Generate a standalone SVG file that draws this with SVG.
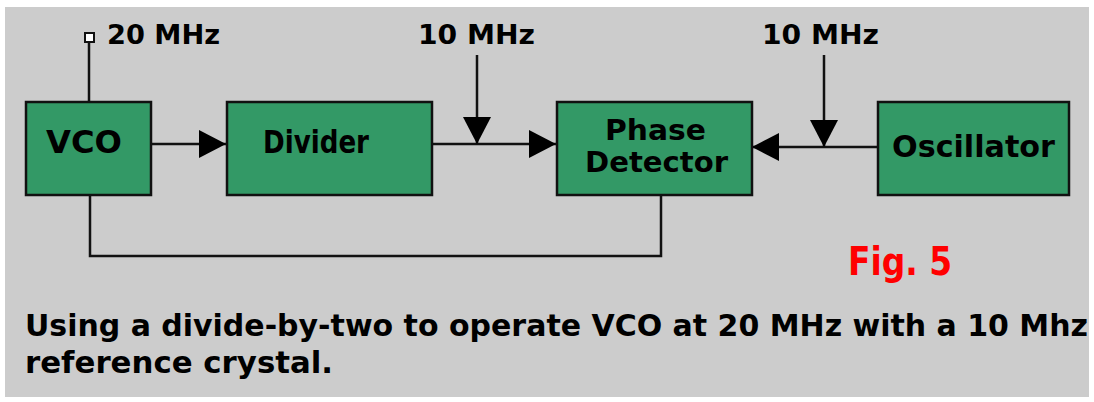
<svg xmlns="http://www.w3.org/2000/svg" width="1094" height="402" viewBox="0 0 1094 402">
<defs>
<style>
.box{fill:#339966;stroke:#111;stroke-width:2.5}
.lbl{font-family:"DejaVu Sans","Liberation Sans",sans-serif;font-weight:bold;fill:#000}
.cap{font-family:"DejaVu Sans Condensed","DejaVu Sans","Liberation Sans",sans-serif;font-weight:bold;fill:#000}
.wire{fill:none;stroke:#111;stroke-width:2.5}
</style>
<marker id="ah" markerUnits="userSpaceOnUse" markerWidth="28" markerHeight="30" refX="27" refY="14" orient="auto" viewBox="0 0 28 28">
<path d="M0,0 L27,14 L0,28 z" fill="#000"/>
</marker>
</defs>
<rect x="0" y="0" width="1094" height="402" fill="#ffffff"/>
<rect x="5" y="7" width="1084" height="390" fill="#cccccc"/>

<g id="connectors">
<line class="wire" x1="89" y1="42" x2="89" y2="101"/>
<rect x="85" y="33" width="9" height="9" fill="#fff" stroke="#111" stroke-width="2"/>
<line class="wire" x1="152" y1="144" x2="226" y2="144" marker-end="url(#ah)"/>
<line class="wire" x1="432" y1="144" x2="556" y2="144" marker-end="url(#ah)"/>
<line class="wire" x1="477" y1="55" x2="477" y2="144" marker-end="url(#ah)"/>
<line class="wire" x1="877" y1="147" x2="752" y2="147" marker-end="url(#ah)"/>
<line class="wire" x1="824" y1="55" x2="824" y2="147" marker-end="url(#ah)"/>
<polyline class="wire" points="90,196 90,256 661,256 661,196"/>
</g>

<g id="vco">
<rect class="box" x="26" y="102" width="125" height="93"/>
<text class="lbl" x="46" y="153" font-size="32" textLength="76" lengthAdjust="spacingAndGlyphs">VCO</text>
</g>
<g id="divider">
<rect class="box" x="227" y="102" width="205" height="93"/>
<text class="lbl" x="263" y="153" font-size="32" textLength="106" lengthAdjust="spacingAndGlyphs">Divider</text>
</g>
<g id="phase-detector">
<rect class="box" x="557" y="102" width="195" height="93"/>
<text class="lbl" x="605" y="140" font-size="28" textLength="101" lengthAdjust="spacingAndGlyphs">Phase</text>
<text class="lbl" x="585" y="172" font-size="28" textLength="143" lengthAdjust="spacingAndGlyphs">Detector</text>
</g>
<g id="oscillator">
<rect class="box" x="878" y="102" width="191" height="93"/>
<text class="lbl" x="892" y="157" font-size="31" textLength="163" lengthAdjust="spacingAndGlyphs">Oscillator</text>
</g>

<g id="labels">
<text class="lbl" x="107" y="44" font-size="27" textLength="113" lengthAdjust="spacingAndGlyphs">20 MHz</text>
<text class="lbl" x="418" y="44" font-size="27" textLength="117" lengthAdjust="spacingAndGlyphs">10 MHz</text>
<text class="lbl" x="762" y="44" font-size="27" textLength="117" lengthAdjust="spacingAndGlyphs">10 MHz</text>
<text class="cap" x="848" y="275" font-size="39" style="fill:#ff0000" textLength="104" lengthAdjust="spacingAndGlyphs">Fig. 5</text>
<text class="cap" x="25" y="336" font-size="30" textLength="1063" lengthAdjust="spacingAndGlyphs">Using a divide-by-two to operate VCO at 20 MHz with a 10 Mhz</text>
<text class="cap" x="25" y="373" font-size="30" textLength="308" lengthAdjust="spacingAndGlyphs">reference crystal.</text>
</g>
</svg>
